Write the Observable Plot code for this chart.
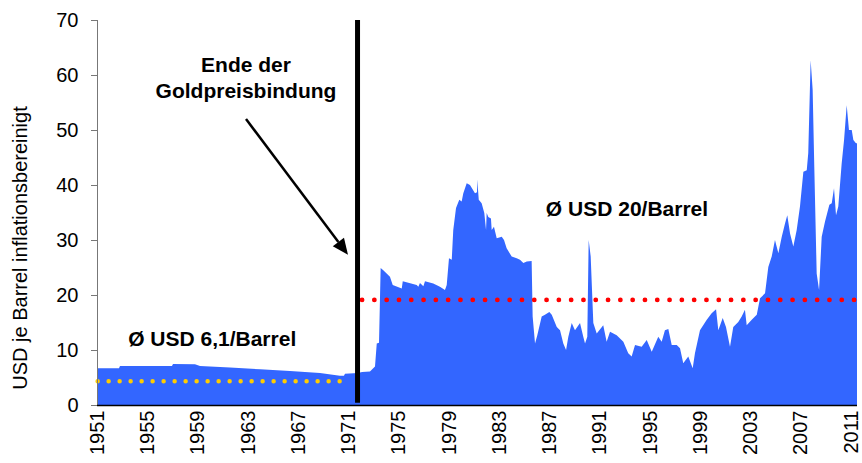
<!DOCTYPE html>
<html><head><meta charset="utf-8">
<script src="https://cdn.jsdelivr.net/npm/d3@7"></script>
<script src="https://cdn.jsdelivr.net/npm/@observablehq/plot@0.6"></script>
<style>body{margin:0;background:#fff;} #chart{width:862px;height:463px;overflow:hidden;}</style>
</head><body><div id="chart"></div>
<script>
// ---- data ----
const years = [1951.00,1952.75,1952.83,1956.97,1957.05,1958.80,1959.20,1961.59,1963.98,1966.36,1968.75,1970.34,1970.66,1970.74,1971.78,1972.10,1972.73,1973.13,1973.27,1973.45,1973.58,1973.79,1974.32,1974.54,1975.26,1975.34,1976.45,1976.58,1976.71,1976.98,1977.11,1977.77,1978.30,1978.70,1978.84,1979.02,1979.24,1979.36,1979.58,1979.84,1980.03,1980.16,1980.43,1980.69,1981.09,1981.25,1981.27,1981.39,1981.62,1981.83,1981.97,1982.02,1982.15,1982.36,1982.42,1982.60,1982.82,1983.22,1983.40,1983.61,1984.01,1984.41,1984.67,1984.94,1985.21,1985.60,1985.68,1985.87,1986.05,1986.40,1986.66,1987.01,1987.20,1987.60,1987.86,1988.12,1988.34,1988.52,1988.79,1989.05,1989.45,1989.71,1989.85,1990.03,1990.14,1990.30,1990.51,1990.78,1991.30,1991.57,1991.84,1992.37,1992.90,1993.29,1993.56,1993.83,1994.36,1994.76,1995.16,1995.68,1995.95,1996.21,1996.48,1996.75,1997.15,1997.41,1997.67,1998.07,1998.42,1998.60,1999.00,1999.54,1999.93,2000.28,2000.46,2000.81,2001.07,2001.39,2001.65,2002.05,2002.32,2002.58,2002.72,2003.12,2003.52,2003.78,2004.18,2004.44,2004.71,2004.97,2005.24,2005.51,2005.77,2005.95,2006.17,2006.43,2006.70,2006.96,2007.23,2007.50,2007.62,2007.81,2007.97,2008.10,2008.29,2008.48,2008.69,2008.95,2009.30,2009.49,2009.67,2009.83,2010.01,2010.28,2010.47,2010.68,2010.86,2011.08,2011.21,2011.42,2011.50];
const prices = [6.7,6.7,7.1,7.1,7.45,7.4,7.1,6.8,6.5,6.2,5.8,5.3,5.3,5.7,5.8,6.0,6.1,7.0,11.2,11.3,24.9,24.5,23.3,21.8,21.2,22.5,21.8,21.5,22.2,21.6,22.5,22.1,21.5,20.9,21.8,26.7,26.4,31.8,35.8,37.3,37.0,38.5,40.3,40.0,38.5,38.7,41.0,37.3,36.7,34.9,31.8,34.9,34.2,33.9,31.8,32.4,30.3,30.6,30.0,28.5,27.0,26.7,26.4,25.8,26.1,26.2,16.1,11.2,12.7,16.1,16.4,16.9,16.4,14.2,13.6,11.2,10.0,12.4,14.9,13.6,14.9,12.4,11.2,12.4,30.0,27.0,14.9,13.0,14.5,11.5,13.3,12.7,11.5,9.4,8.8,10.9,10.6,11.8,9.7,12.4,11.5,13.6,13.8,10.9,10.9,10.3,7.6,8.8,6.7,9.4,13.6,15.5,16.7,17.4,13.6,15.8,14.2,10.6,14.2,15.1,16.1,17.3,14.5,15.5,16.4,19.4,20.3,25.1,27.0,30.0,27.6,30.6,33.0,34.5,31.2,28.8,31.8,36.1,42.4,42.7,45.8,62.7,57.3,43.3,23.9,20.9,30.6,33.3,36.4,36.7,39.4,34.5,36.1,43.9,48.2,54.5,50.0,50.0,48.2,47.6,47.6];
const tickYears = [1951,1955,1959,1963,1967,1971,1975,1979,1983,1987,1991,1995,1999,2003,2007,2011];
const yTicks = [0,10,20,30,40,50,60,70];
const pegEndYear = 1971.7;
const avgPreLevel = 4.4;   const avgPreSpan = [1951, 1971.14];
const avgPostLevel = 19.2; const avgPostSpan = [1972.1, 2011.5];
const yLabel = "USD je Barrel inflationsbereinigt";
const noteTexts = ["Ende der", "Goldpreisbindung", "Ø USD 20/Barrel", "Ø USD 6,1/Barrel"];

// ---- annotation anchors (data coordinates) ----
const noteX = [1962.82, 1962.82, 1993.15, 1960.13];
const noteY = [61.9, 57.2, 35.6, 11.96];
const arrowFrom = [1962.86, 52.0];
const arrowTo = [1970.98, 27.3];

const series = years.map((x, i) => ({x, y: prices[i]}));
const notes = noteTexts.map((t, i) => ({t, x: noteX[i], y: noteY[i]}));

const arrowMark = (index, scales) => {
  const x1 = scales.x(arrowFrom[0]), y1 = scales.y(arrowFrom[1]);
  const x2 = scales.x(arrowTo[0]), y2 = scales.y(arrowTo[1]);
  const dx = x2 - x1, dy = y2 - y1, len = Math.hypot(dx, dy);
  const ux = dx / len, uy = dy / len, L = 16, W = 7;
  const bx = x2 - ux * L, by = y2 - uy * L;
  const g = d3.create("svg:g");
  g.append("line").attr("x1", x1).attr("y1", y1).attr("x2", bx).attr("y2", by)
    .attr("stroke", "#000").attr("stroke-width", 2.5);
  g.append("polygon")
    .attr("points", `${x2},${y2} ${bx - uy * W},${by + ux * W} ${bx + uy * W},${by - ux * W}`)
    .attr("fill", "#000");
  return g.node();
};

const chart = Plot.plot({
  width: 862, height: 463,
  marginLeft: 97, marginRight: 5, marginTop: 20, marginBottom: 58,
  style: {fontFamily: "'Liberation Sans', Arial, sans-serif", fontSize: "20px", color: "#000", background: "#fff"},
  x: {domain: [1951, 2011.5], label: null},
  y: {domain: [0, 70], label: null},
  marks: [
    Plot.areaY(series, {x: "x", y: "y", fill: "#3366ff"}),
    Plot.ruleY([avgPreLevel], {x1: avgPreSpan[0] + 0.05, x2: avgPreSpan[1], stroke: "#ffcc00", strokeWidth: 4.5, strokeDasharray: "0 11", strokeLinecap: "round"}),
    Plot.ruleY([avgPostLevel], {x1: avgPostSpan[0], x2: avgPostSpan[1], stroke: "#ff0000", strokeWidth: 4.8, strokeDasharray: "0 12.3", strokeLinecap: "round"}),
    Plot.ruleX([pegEndYear], {y1: 0.4, y2: 70, stroke: "#000", strokeWidth: 5}),
    Plot.ruleX([1951], {stroke: "#777", strokeWidth: 1}),
    Plot.ruleY([0], {stroke: "#000", strokeWidth: 1.5}),
    Plot.axisX({ticks: tickYears, tickFormat: d => String(d), tickRotate: -90, tickSize: 0, tickPadding: 5, fontSize: 20, label: null}),
    Plot.axisY({ticks: yTicks, tickSize: 6, tickPadding: 13, stroke: "#777", fontSize: 20, label: null}),
    Plot.text([yLabel], {frameAnchor: "left", textAnchor: "middle", rotate: -90, dx: -77, dy: 35, fontSize: 20, fill: "#000"}),
    Plot.text(notes, {x: "x", y: "y", text: "t", fontWeight: "bold", fontSize: 21, fill: "#000"}),
    arrowMark
  ]
});
document.getElementById("chart").appendChild(chart);
</script>
</body></html>
